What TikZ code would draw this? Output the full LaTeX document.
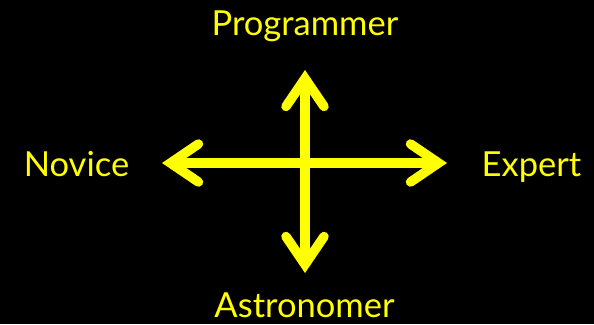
\documentclass[tikz,border=0pt]{standalone}
\usepackage{fontspec}
\setmainfont{Lato}
\usetikzlibrary{arrows.meta}
\definecolor{slideyellow}{RGB}{255,255,0}
\begin{document}
\begin{tikzpicture}[x=1pt, y=1pt,
    axis/.style={slideyellow, line width=9.5pt,
      {Straight Barb[length=28pt, width=38pt, line cap=round, line join=miter]}-{Straight Barb[length=28pt, width=38pt, line cap=round, line join=miter]}},
    lbl/.style={text=slideyellow, anchor=base, inner sep=0pt, font=\fontsize{34.5}{38}\selectfont}]
    \fill[black] (0,0) rectangle (594,324);

    \node[lbl] (prog)  at (305, 288)   {Programmer};
    \node[lbl] (astro) at (304.5, 7)   {Astronomer};
    \node[lbl] (nov)   at (76.5, 147)  {Novice};
    \node[lbl] (exp)   at (531.5, 147) {Expert};

    \coordinate (west)  at (162, 161);
    \coordinate (east)  at (447, 161);
    \coordinate (north) at (305, 254);
    \coordinate (south) at (305, 51);

    \draw[axis] (west) -- (east);
    \draw[axis] (south) -- (north);
\end{tikzpicture}
\end{document}
